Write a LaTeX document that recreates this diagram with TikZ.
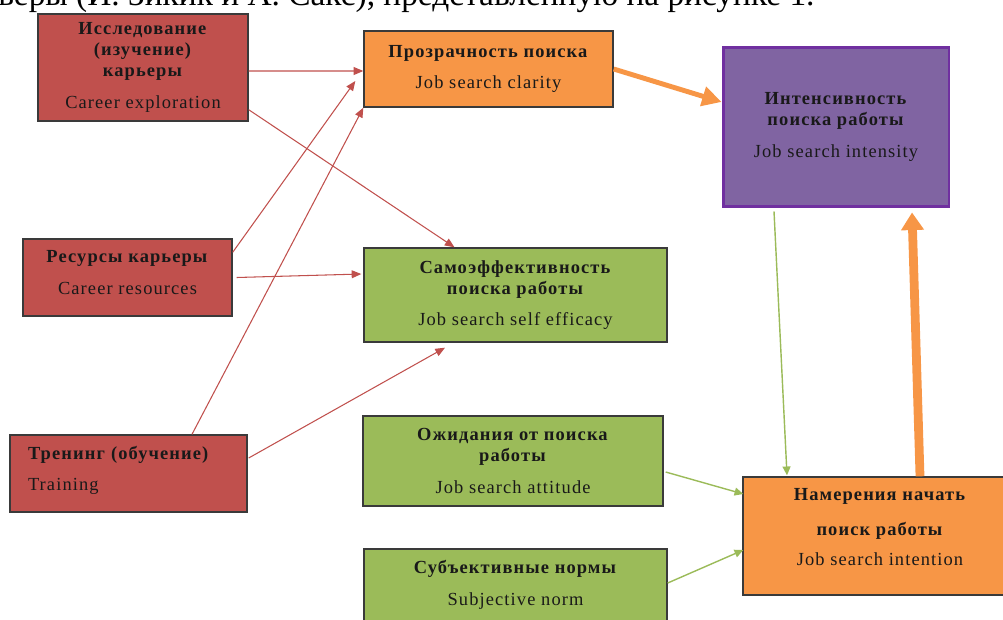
\documentclass[tikz,border=0pt]{standalone}
\usepackage{fontspec}
\setmainfont{Liberation Serif}
\newfontfamily\boxfont{Liberation Serif}[LetterSpace=6]
\usetikzlibrary{arrows.meta,calc}
\definecolor{redfill}{HTML}{C0504D}
\definecolor{orangefill}{HTML}{F79646}
\definecolor{greenfill}{HTML}{9BBB59}
\definecolor{purplefill}{HTML}{8064A2}
\definecolor{purpleline}{HTML}{7030A0}
\definecolor{boxline}{HTML}{3A3A3A}

\begin{document}
\begin{tikzpicture}[x=0.02cm,y=-0.02cm,
  box/.style={draw=boxline,line width=0.8pt,align=center,inner sep=0pt,
    text=black!90,font=\boxfont\fontsize{10.5}{12}\selectfont},
  redarr/.style={draw=redfill,line width=0.6pt,-{Triangle[length=5.5pt,width=4.5pt]}},
  greenarr/.style={draw=greenfill,line width=0.8pt,-{Triangle[length=5pt,width=4.5pt]}},
  orangearr/.style={draw=orangefill,-{Triangle[length=11pt,width=11pt]}}]
\useasboundingbox (0,0) rectangle (1003,619);
\node[anchor=base west,inner sep=0pt,font=\fontsize{19}{22}\selectfont] (hdr) at (-2,5)
  {веры (Й. Зикик и А. Сакс), представленную на рисунке 1.};
\node[box,fill=redfill,minimum width=4.2cm,minimum height=2.14cm] (explor) at (143,67.5)
  {\textbf{Исследование}\\\textbf{(изучение)}\\\textbf{карьеры}\\[6pt]Career exploration};
\node[box,fill=redfill,minimum width=4.18cm,minimum height=1.54cm] (resour) at (127.5,277.5)
  {\textbf{Ресурсы карьеры}\\[6pt]Career resources\\[-6pt]\mbox{}};
\node[box,fill=redfill,align=left,text width=4.02cm,inner xsep=0.36cm,minimum height=1.54cm] (train) at (128.5,473.5)
  {\textbf{Тренинг (обучение)}\\[6pt]Training\\[-6pt]\mbox{}};
\node[box,fill=orangefill,minimum width=4.98cm,minimum height=1.52cm] (clarity) at (488.5,69)
  {\textbf{Прозрачность поиска}\\[6pt]Job search clarity};
\node[box,fill=greenfill,minimum width=6.06cm,minimum height=1.88cm] (effic) at (515.5,295)
  {\textbf{Самоэффективность}\\\textbf{поиска работы}\\[6pt]Job search self efficacy};
\node[box,fill=greenfill,minimum width=6cm,minimum height=1.8cm] (attit) at (513,461)
  {\textbf{Ожидания от поиска}\\\textbf{работы}\\[6pt]Job search attitude};
\node[box,fill=greenfill,minimum width=6.06cm,minimum height=1.44cm] (norm) at (515.5,585)
  {\textbf{Субъективные нормы}\\[6pt]Subjective norm};
\node[box,fill=purplefill,draw=purpleline,line width=1.7pt,minimum width=4.52cm,minimum height=3.2cm] (intens) at (836,127)
  {\textbf{Интенсивность}\\\textbf{поиска работы}\\[6pt]Job search intensity};
\node[box,fill=orangefill,minimum width=5.48cm,minimum height=2.36cm] (intent) at (880,536)
  {\textbf{Намерения начать}\\[8pt]\textbf{поиск работы}\\[5pt]Job search intention\\[-2pt]\mbox{}};
\draw[redarr] ($(explor.east)+(0,3.5)$) -- ($(clarity.west)+(0,2)$);
\draw[redarr] ($(explor.south east)+(0,-12)$) -- ($(effic.north)+(-61,0)$);
\draw[redarr] ($(resour.north east)+(0,14)$) -- ($(clarity.west)+(-8,12)$);
\draw[redarr] ($(train.north)+(63.5,0)$) -- (clarity.south west);
\draw[redarr] ($(resour.east)+(4,0)$) -- ($(effic.west)+(-2,-21)$);
\draw[redarr] ($(train.east)+(1,-15.5)$) -- ($(effic.south)+(-70.5,5)$);
\draw[orangearr,line width=2.8pt] (clarity.east) -- ($(intens.west)+(0,-25)$);
\draw[orangearr,line width=5pt,-{Triangle[length=10pt,width=12.5pt]}] ($(intent.north)+(40,0)$) -- ($(intens.south)+(76,4)$);
\draw[greenarr] ($(intens.south)+(-62,3)$) -- ($(intent.north)+(-93,-1)$);
\draw[greenarr] ($(attit.east)+(2,11)$) -- ($(intent.west)+(1,-42)$);
\draw[greenarr] ($(norm.east)+(0,-2)$) -- ($(intent.west)+(1,14)$);
\end{tikzpicture}
\end{document}
